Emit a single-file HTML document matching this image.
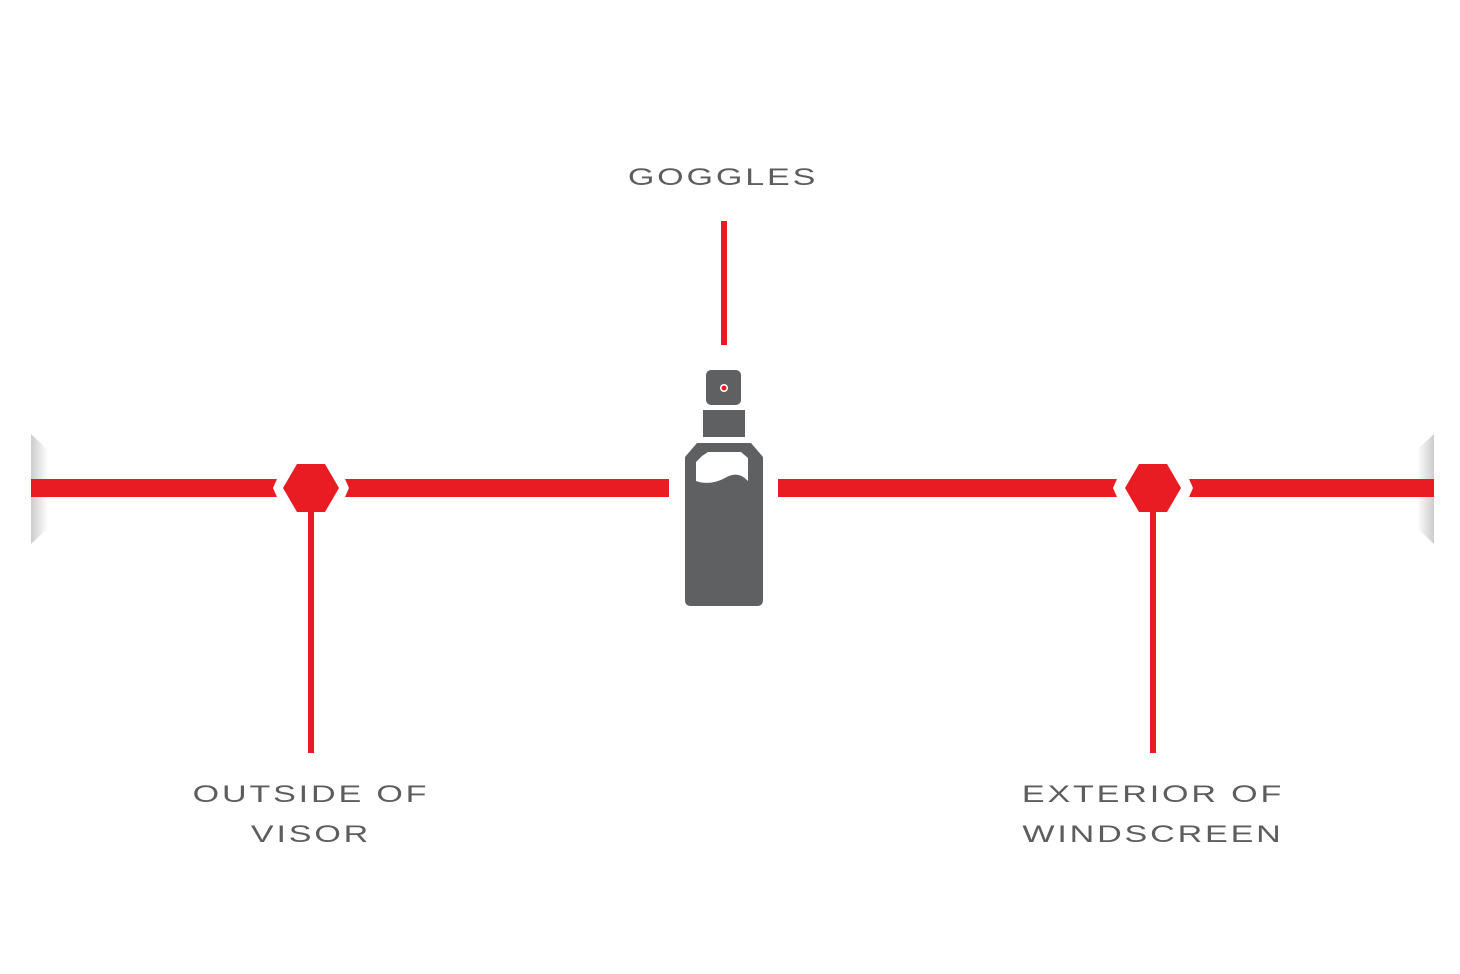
<!DOCTYPE html>
<html><head><style>
body{margin:0;width:1460px;height:974px;background:#fff;position:relative;overflow:hidden;font-family:"Liberation Sans",sans-serif}
.t{position:absolute;color:#5d5d5f;font-size:24px;letter-spacing:2px;text-align:center;line-height:40px;transform:scaleX(1.42);transform-origin:center}
</style></head><body>
<svg width="1460" height="974" style="position:absolute;left:0;top:0">
<defs>
<linearGradient id="g" x1="0" x2="1"><stop offset="0" stop-color="#ccc"/><stop offset="1" stop-color="#fff"/></linearGradient>
<linearGradient id="g2" x1="1" x2="0"><stop offset="0" stop-color="#ccc"/><stop offset="1" stop-color="#fff"/></linearGradient>
</defs>
<polygon points="31,434 48,450 48,528 31,544" fill="url(#g)"/>
<polygon points="1434,434 1417,450 1417,528 1434,544" fill="url(#g2)"/>
<g fill="#e91c24">
<polygon points="31,479 277,479 273,488 277,497 31,497"/>
<polygon points="345,479 669,479 669,497 345,497 349,488"/>
<polygon points="778,479 1117,479 1113,488 1117,497 778,497"/>
<polygon points="1189,479 1434,479 1434,497 1189,497 1193,488"/>
<polygon points="297,464 325,464 339,488 325,512 297,512 283,488"/>
<polygon points="1139,464 1167,464 1181,488 1167,512 1139,512 1125,488"/>
<rect x="308" y="505" width="6" height="248"/>
<rect x="1150" y="505" width="6" height="248"/>
<rect x="721" y="221" width="6" height="124"/>
</g>
<g fill="#5f6062">
<rect x="706" y="370" width="35" height="35" rx="5"/>
<rect x="703" y="410" width="42" height="27"/>
<path d="M697,443 H751 L763,457 V600 Q763,606 757,606 H691 Q685,606 685,600 V457 Z"/>
</g>
<path d="M702,456 L708,452 H741 L748,458 V481 Q738,470 725,478 Q710,486 696,481 V462 Z" fill="#fff"/>
<circle cx="724" cy="388" r="4" fill="#fff"/><circle cx="724" cy="388" r="2.5" fill="#e91c24"/>
</svg>
<div class="t" style="left:600px;top:158px;width:246px">GOGGLES</div>
<div class="t" style="left:160px;top:775px;width:302px">OUTSIDE OF<br>VISOR</div>
<div class="t" style="left:1000px;top:775px;width:306px">EXTERIOR OF<br>WINDSCREEN</div>
</body></html>
